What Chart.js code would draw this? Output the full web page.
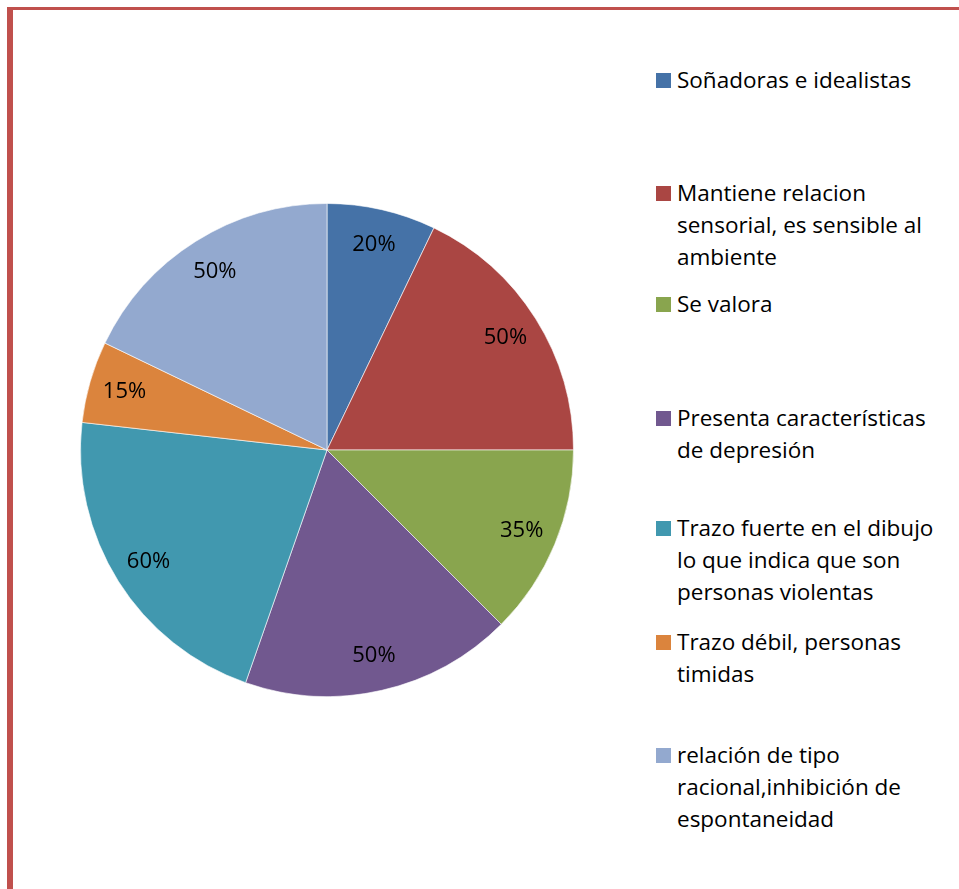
<!DOCTYPE html>
<html>
<head>
<meta charset="utf-8">
<script src="https://cdn.jsdelivr.net/npm/chart.js@4/dist/chart.umd.min.js"></script>
<style>
  body { margin: 0; background: #fff; width: 959px; height: 889px; position: relative; overflow: hidden; font-family: "Open Sans", Lato, sans-serif; }
  #marco { position: absolute; left: 7px; top: 7px; right: 0; bottom: 0; border-left: 6px solid #c0504d; border-top: 3px solid #c0504d; }
  #pieBox { position: absolute; left: 80px; top: 203px; width: 494px; height: 494px; }
  #leyenda { position: absolute; left: 0; top: 0; }
  .item { position: absolute; left: 656px; font-size: 22.5px; line-height: 32px; color: #000; }
  .item .sw { position: absolute; left: 0; top: 9px; width: 15px; height: 15px; }
  .item .tx { margin-left: 21px; white-space: nowrap; }
</style>
</head>
<body>
<div id="marco"></div>
<div id="pieBox"><canvas id="grafico"></canvas></div>
<div id="leyenda"></div>
<script>
// Datos del gráfico
const categorias = [
  ["Soñadoras e idealistas"],
  ["Mantiene relacion", "sensorial, es sensible al", "ambiente"],
  ["Se valora"],
  ["Presenta características", "de depresión"],
  ["Trazo fuerte en el dibujo", "lo que indica que son", "personas violentas"],
  ["Trazo débil, personas", "timidas"],
  ["relación de tipo", "racional,inhibición de", "espontaneidad"]
];
const valores = [20, 50, 35, 50, 60, 15, 50];
const etiquetas = ["20%", "50%", "35%", "50%", "60%", "15%", "50%"];
const colores = ["#4572a7", "#aa4643", "#89a54e", "#71588f", "#4198af", "#db843d", "#93a9cf"];

// Posición vertical de cada elemento de la leyenda
const leyendaTop = [64, 177, 288, 402, 512, 626, 739];

// Plugin para escribir los porcentajes dentro de cada porción
const etiquetasPlugin = {
  id: 'etiquetas',
  afterDatasetsDraw(chart) {
    const ctx = chart.ctx;
    const meta = chart.getDatasetMeta(0);
    ctx.save();
    ctx.font = '22px "Open Sans", Lato, sans-serif';
    ctx.fillStyle = '#000';
    ctx.textAlign = 'center';
    ctx.textBaseline = 'middle';
    meta.data.forEach((arc, i) => {
      const p = arc.getProps(['x', 'y', 'startAngle', 'endAngle', 'outerRadius'], true);
      const ang = (p.startAngle + p.endAngle) / 2;
      const r = p.outerRadius * 0.855;
      ctx.fillText(etiquetas[i], p.x + Math.cos(ang) * r, p.y + Math.sin(ang) * r);
    });
    ctx.restore();
  }
};

const ctx = document.getElementById('grafico').getContext('2d');
new Chart(ctx, {
  type: 'pie',
  data: {
    labels: categorias,
    datasets: [{
      data: valores,
      backgroundColor: colores,
      borderColor: 'rgba(255,255,255,0.6)',
      borderWidth: 1
    }]
  },
  options: {
    responsive: true,
    maintainAspectRatio: false,
    animation: false,
    plugins: {
      legend: { display: false },
      tooltip: { enabled: false }
    }
  },
  plugins: [etiquetasPlugin]
});

// Leyenda en HTML
let html = "";
categorias.forEach((lineas, i) => {
  html += `<div class="item" style="top:${leyendaTop[i]}px">
             <div class="sw" style="background:${colores[i]}"></div>
             <div class="tx">${lineas.join('<br>')}</div>
           </div>`;
});
document.getElementById('leyenda').innerHTML = html;
</script>
</body>
</html>
